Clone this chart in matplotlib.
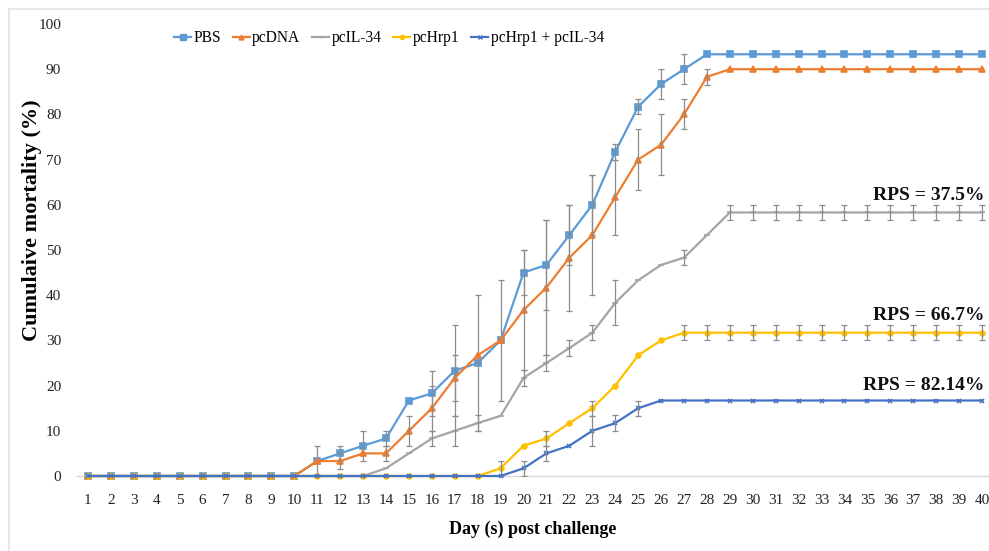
import matplotlib
matplotlib.use("Agg")
import matplotlib.pyplot as plt
from matplotlib.lines import Line2D
import numpy as np

days = list(range(1, 41))

pbs = [0]*10 + [3.3, 5, 6.7, 8.3, 16.7, 18.3, 23.3, 25, 30, 45, 46.7, 53.3, 60, 71.7, 81.7, 86.7, 90] + [93.3]*13
pcdna = [0]*10 + [3.3, 3.3, 5, 5, 10, 15, 21.7, 26.7, 30, 36.7, 41.7, 48.3, 53.3, 61.7, 70, 73.3, 80, 88.3] + [90]*12
pcil34 = [0]*13 + [1.7, 5, 8.3, 10, 11.7, 13.3, 21.7, 25, 28.3, 31.7, 38.3, 43.3, 46.7, 48.3, 53.3] + [58.3]*12
pchrp1 = [0]*18 + [1.7, 6.7, 8.3, 11.7, 15, 20, 26.7, 30] + [31.7]*14
combo = [0]*19 + [1.7, 5, 6.7, 10, 11.7, 15] + [16.7]*15

# error bars (symmetric), one value per day
pbs_err = [0]*10 + [3.3, 1.7, 3.3, 1.7, 0, 5, 10, 15, 13.3, 5, 10, 6.7, 6.7, 1.7, 1.7, 3.3, 3.3] + [0]*13
pcdna_err = [0]*10 + [0, 1.7, 0, 1.7, 3.3, 5, 5, 0, 0, 13.3, 15, 11.7, 13.3, 8.3, 6.7, 6.7, 3.3, 1.7] + [0]*12
pcil34_err = [0]*15 + [1.7, 3.3, 1.7, 0, 1.7, 1.7, 1.7, 1.7, 5, 0, 0, 1.7, 0] + [1.7]*12
pchrp1_err = [0]*18 + [1.7, 0, 1.7, 0, 1.7, 0, 0, 0] + [1.7]*14
combo_err = [0]*19 + [1.7, 1.7, 0, 3.3, 1.7, 1.7] + [0]*15

labels = ["PBS", "pcDNA", "pcIL-34", "pcHrp1", "pcHrp1 + pcIL-34"]
colors = ["#5B9BD5", "#ED7D31", "#A5A5A5", "#FFC000", "#4472C4"]
markers = ["s", "^", "_", "o", "x"]
msizes = [4.5, 4, 5, 3.5, 3.5]
series = [pbs, pcdna, pcil34, pchrp1, combo]
errs = [pbs_err, pcdna_err, pcil34_err, pchrp1_err, combo_err]

rps_texts = ["RPS = 37.5%", "RPS = 66.7%", "RPS = 82.14%"]
rps_y = [62.0, 35.5, 20.0]

plt.rcParams['font.family'] = ['Liberation Serif', 'DejaVu Serif']

fig = plt.figure(figsize=(9.89, 5.51), dpi=100)
ax = fig.add_axes([76.5/989, 75/551, 912.4/989, 452/551])

x = np.array(days)
handles = []
for i, (y, e) in enumerate(zip(series, errs)):
    y = np.array(y, dtype=float)
    e = np.array(e, dtype=float)
    z = 3 + i*2
    ax.plot(x, y, color=colors[i], lw=1.6, marker=markers[i], ms=msizes[i],
            mec=colors[i], mfc=colors[i], mew=1.2, zorder=z, clip_on=False)
    m = e > 0
    if m.any():
        ax.errorbar(x[m], y[m], yerr=e[m], fmt='none', ecolor='#8C8C8C',
                    elinewidth=0.9, capsize=2.2, capthick=0.9, zorder=z+1)
    handles.append(Line2D([], [], color=colors[i], lw=1.6, marker=markers[i],
                          ms=msizes[i]-0.5, mec=colors[i], mfc=colors[i]))

ax.set_xlim(0.5, 40.3)
ax.set_ylim(0, 100)
ax.set_xticks(days)
ax.set_yticks(range(0, 101, 10))
ax.tick_params(axis='both', length=0, labelsize=11, colors='#222222')
ax.tick_params(axis='x', pad=13)
ax.tick_params(axis='y', pad=11)
for s in ['top', 'right', 'left']:
    ax.spines[s].set_visible(False)
ax.spines['bottom'].set_color('#D9D9D9')
ax.spines['bottom'].set_linewidth(1.0)

ax.set_ylabel("Cumulaive mortality (%)", fontsize=16, fontweight='bold', va='center')
ax.yaxis.set_label_coords((32 - 76.5)/912.4, 0.566)
ax.set_xlabel("Day (s) post challenge", fontsize=13, fontweight='bold', labelpad=10)

for t, yy in zip(rps_texts, rps_y):
    ax.text(40.1, yy, t, ha='right', va='center', fontsize=14, fontweight='bold',
            color='#111111', zorder=20)

fig.legend(handles, labels, loc='center left', bbox_to_anchor=(174/989, 1 - 38/551),
           ncol=5, frameon=False, fontsize=11.2, handlelength=1.1, handletextpad=0.15,
           columnspacing=0.75, borderaxespad=0, borderpad=0)

# chart border (left and top edges visible)
fig.add_artist(Line2D([9/989, 9/989], [0, 1 - 9/551], color='#E3E3E3', lw=1.2,
                      transform=fig.transFigure))
fig.add_artist(Line2D([9/989, 1], [1 - 9/551, 1 - 9/551], color='#E3E3E3', lw=1.2,
                      transform=fig.transFigure))

fig.savefig("out.png", dpi=100)
